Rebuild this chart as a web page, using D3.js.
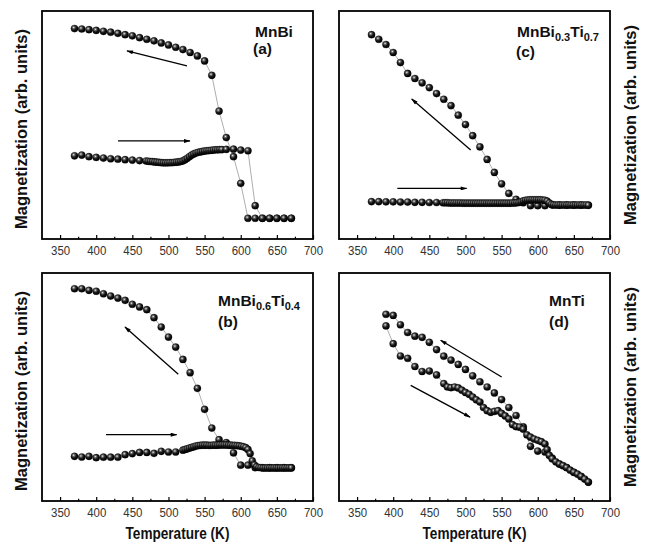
<!DOCTYPE html>
<html>
<head>
<meta charset="utf-8">
<script src="https://cdn.jsdelivr.net/npm/d3@7"></script>
<style>
  body { margin: 0; background: #fff; }
  svg { display: block; font-family: "Liberation Sans", Arial, sans-serif; }
</style>
</head>
<body>
<svg id="chart" width="649" height="551"></svg>
<script>
// temperature grids (K)
const tempsCool = [370, 380, 390, 400, 410, 420, 430, 440, 450, 460, 470, 480, 490, 500, 510, 520,
  530, 540, 550, 560, 570, 580, 590, 600, 610, 620, 630, 640, 650, 660, 670];

// (a) MnBi
const magA_cool = [92.3, 92.1, 91.8, 91.5, 91.1, 90.7, 90.2, 89.6, 89.1, 88.3, 87.6, 86.9, 86.0, 85.1, 84.1, 83.1,
  81.8, 80.3, 78.1, 71.8, 56.1, 44.5, 36.1, 24.4, 9.1, 9.1, 9.1, 9.1, 9.1, 9.1, 9.1];
const tempA_heat = [370, 380, 390, 400, 410, 420, 430, 440, 450, 460,
  469, 472, 475, 478, 481, 484, 487, 490, 493, 496, 499, 502, 505, 508, 511, 514, 517, 520,
  523, 526, 529, 532, 535, 538, 541, 544, 547, 550, 553, 556, 559, 562, 565, 568, 571, 574,
  580, 590, 600, 610, 620, 630, 640, 650, 660, 670];
const magA_heat = [36.5, 36.8, 36.1, 35.8, 35.5, 35.2, 35.0, 34.8, 34.6, 34.4,
  34.2, 34.1, 34.0, 33.9, 33.8, 33.7, 33.6, 33.5, 33.4, 33.4, 33.4, 33.5, 33.5, 33.6, 33.7, 33.8, 34.0, 34.3,
  34.8, 35.4, 36.1, 36.8, 37.3, 37.7, 38.0, 38.2, 38.4, 38.6, 38.7, 38.8, 38.9, 39.0, 39.1, 39.1, 39.2, 39.2,
  39.3, 39.4, 39.0, 38.7, 14.6, 9.1, 9.1, 9.1, 9.1, 9.1];

// (c) MnBi0.3Ti0.7
const magC_cool = [89.6, 87.6, 85.3, 81.8, 77.4, 72.6, 70.4, 68.5, 66.4, 63.8, 61.3, 58.5, 54.3, 50.2, 45.3, 40.4,
  34.9, 29.2, 24.2, 20.0, 17.4, 15.9, 14.6, 14.6, 14.6, 14.9, 14.9, 14.9, 14.9, 14.9, 14.9];
const tempC_heat = [370, 380, 390, 400, 410, 420, 430, 440, 450, 460,
  469, 472, 475, 478, 481, 484, 487, 490, 493, 496, 499, 502, 505, 508, 511, 514, 517, 520,
  523, 526, 529, 532, 535, 538, 541, 544, 547, 550, 553, 556, 559, 562, 565, 568, 571, 574,
  577, 580, 583, 586, 589, 592, 595, 598, 601, 604, 607, 610, 613, 616, 619, 622,
  625, 628, 631, 634, 637, 640, 643, 646, 649, 652, 655, 658, 661, 664, 667, 670];
const magC_heat = [16.4, 16.4, 16.3, 16.3, 16.2, 16.2, 16.1, 16.1, 16.0, 16.0,
  15.9, 15.9, 15.9, 15.8, 15.8, 15.8, 15.8, 15.8, 15.8, 15.7, 15.7, 15.7, 15.7, 15.7, 15.7, 15.7, 15.7, 15.7,
  15.7, 15.7, 15.7, 15.7, 15.7, 15.7, 15.7, 15.7, 15.7, 15.7, 15.7, 15.7, 15.7, 15.7, 15.8, 15.8, 15.9, 16.0,
  16.3, 16.7, 17.0, 17.1, 17.2, 17.2, 17.2, 17.2, 17.2, 17.2, 17.1, 17.0, 16.6, 15.8, 15.2, 15.0,
  14.9, 14.9, 14.9, 14.9, 14.9, 14.9, 14.9, 14.9, 14.9, 14.9, 14.9, 14.9, 14.9, 14.9, 14.9, 14.8];

// (b) MnBi0.6Ti0.4
const magB_cool = [93.1, 93.1, 92.4, 92.0, 90.9, 89.9, 89.0, 88.0, 86.3, 85.1, 83.9, 80.4, 76.3, 71.9, 67.5, 62.1,
  56.3, 49.4, 40.2, 32.0, 26.9, 25.6, 21.1, 15.7, 15.7, 14.6, 14.6, 14.6, 14.6, 14.6, 14.6];
const tempB_heat = [370, 380, 390, 400, 410, 420, 430, 440, 450, 460, 470, 480, 490, 500, 510, 520,
  523, 526, 529, 532, 535, 538, 541, 544, 547, 550, 553, 556, 559, 562, 565, 568, 571, 574, 577, 580,
  583, 586, 589, 592, 595, 598, 601, 604, 607, 610, 613, 616, 619, 622, 625, 628, 631, 634, 637, 640,
  643, 646, 649, 652, 655, 658, 661, 664, 667, 670];
const magB_heat = [19.6, 19.3, 19.6, 19.0, 19.2, 19.2, 19.2, 20.3, 20.8, 21.3, 21.3, 20.9, 21.8, 21.5, 21.5, 22.3,
  22.6, 22.9, 23.2, 23.5, 23.8, 24.1, 24.3, 24.4, 24.5, 24.5, 24.5, 24.4, 24.4, 24.5, 24.5, 24.5, 24.6, 24.6, 24.6, 24.6,
  24.5, 24.5, 24.4, 24.4, 24.3, 24.2, 24.0, 23.8, 23.4, 22.6, 20.8, 17.6, 15.8, 15.0, 14.7, 14.6, 14.5, 14.5, 14.5, 14.5,
  14.5, 14.5, 14.5, 14.5, 14.5, 14.5, 14.5, 14.5, 14.5, 14.5];

// (d) MnTi
const tempD_cool = [390, 400, 410, 420, 430, 440, 450, 460, 470, 480, 490, 500, 510, 520, 530,
  540, 550, 560, 570, 580, 590, 600, 610, 620, 630, 640, 650, 660, 670];
const magD_cool = [81.9, 81.4, 77.3, 73.9, 72.3, 71.8, 69.6, 66.4, 63.5, 61.8, 59.9, 57.7, 54.9, 52.3, 50.0,
  47.4, 44.5, 41.0, 37.5, 32.5, 24.0, 21.9, 21.5, 18.8, 16.2, 14.7, 12.6, 10.7, 8.3];
const tempD_heat = [390, 400, 410, 420, 430, 440, 450, 460, 470, 475, 480, 485, 490, 495, 500, 505,
  510, 515, 520, 525, 530, 535, 540, 545, 550, 555, 560, 565, 570, 575, 580, 585, 590, 595, 600, 605,
  610, 613, 616, 620, 625, 630, 635, 640, 645, 650, 655, 660, 665, 670];
const magD_heat = [76.8, 69.0, 63.6, 62.6, 59.0, 56.8, 57.0, 55.3, 51.5, 50.0, 49.7, 50.0, 49.6, 48.6, 47.6, 46.8,
  45.6, 44.4, 43.4, 41.0, 39.6, 38.9, 39.3, 39.6, 38.4, 37.3, 36.0, 33.5, 32.6, 32.4, 31.5, 29.0, 28.0, 27.2, 26.6, 26.0,
  25.0, 22.5, 20.0, 18.5, 17.2, 16.2, 15.5, 14.6, 13.5, 12.6, 11.8, 10.8, 9.6, 8.3];

const xTicks = [350, 400, 450, 500, 550, 600, 650, 700];
const xMinorTicks = [375, 425, 475, 525, 575, 625, 675];

const panels = [
  { left: 42, top: 11, cool: [tempsCool, magA_cool], heat: [tempA_heat, magA_heat],
    name: ["MnBi"], tag: "(a)", nameX: 255, nameY: 37, tagX: 253, tagY: 54, ylab: { x: 27, y: 129 },
    arrows: [[525.6, 75.9, 442.6, 82.5], [430.2, 43.0, 529.8, 43.0]] },
  { left: 339, top: 11, cool: [tempsCool, magC_cool], heat: [tempC_heat, magC_heat],
    name: ["MnBi", "0.3", "Ti", "0.7"], tag: "(c)", nameX: 517, nameY: 37, tagX: 516, tagY: 57, ylab: { x: 636, y: 125 },
    arrows: [[507.2, 39.0, 425.6, 61.4], [405.7, 22.2, 501.7, 22.2]] },
  { left: 42, top: 273, cool: [tempsCool, magB_cool], heat: [tempB_heat, magB_heat],
    name: ["MnBi", "0.6", "Ti", "0.4"], tag: "(b)", nameX: 218, nameY: 306, tagX: 218, tagY: 327, ylab: { x: 27, y: 391 },
    arrows: [[513.6, 55.6, 439.8, 76.3], [413.6, 29.1, 511.4, 29.1]], xlabel: true },
  { left: 339, top: 273, cool: [tempD_cool, magD_cool], heat: [tempD_heat, magD_heat],
    name: ["MnTi"], tag: "(d)", nameX: 549, nameY: 306, tagX: 549, tagY: 327, ylab: { x: 636, y: 387 },
    arrows: [[550.1, 54.4, 465.7, 70.5], [424.2, 50.7, 506.3, 36.8]], xlabel: true }
];

const W = 271, H = 228;
const svg = d3.select("#chart");

const defs = svg.append("defs");
const grad = defs.append("radialGradient").attr("id", "ball")
  .attr("cx", "38%").attr("cy", "35%").attr("r", "62%");
grad.append("stop").attr("offset", "0%").attr("stop-color", "#f4f4f4");
grad.append("stop").attr("offset", "22%").attr("stop-color", "#777");
grad.append("stop").attr("offset", "55%").attr("stop-color", "#1a1a1a");
grad.append("stop").attr("offset", "100%").attr("stop-color", "#000");

defs.append("marker").attr("id", "head")
  .attr("viewBox", "0 0 10 6").attr("refX", 9).attr("refY", 3)
  .attr("markerWidth", 8).attr("markerHeight", 4).attr("markerUnits", "userSpaceOnUse")
  .attr("orient", "auto")
  .append("path").attr("d", "M0,0 L10,3 L0,6 z").attr("fill", "#000");

const x = d3.scaleLinear().domain([325, 700]).range([0, W]);
const y = d3.scaleLinear().domain([0, 100]).range([H, 0]);

const line = d3.line().x(d => x(d[0])).y(d => y(d[1]));

panels.forEach(p => {
  const g = svg.append("g").attr("transform", `translate(${p.left},${p.top})`);

  // curves
  [p.cool, p.heat].forEach(s => {
    const pts = s[0].map((t, i) => [t, s[1][i]]);
    g.append("path").datum(pts)
      .attr("d", line)
      .attr("fill", "none")
      .attr("stroke", "#999")
      .attr("stroke-width", 0.8);
  });
  [p.cool, p.heat].forEach(s => {
    const pts = s[0].map((t, i) => [t, s[1][i]]);
    g.selectAll(null).data(pts).enter().append("circle")
      .attr("cx", d => x(d[0]))
      .attr("cy", d => y(d[1]))
      .attr("r", 3.6)
      .attr("fill", "url(#ball)")
      .attr("stroke", "#000")
      .attr("stroke-width", 0.3);
  });

  // arrows
  p.arrows.forEach(a => {
    g.append("line")
      .attr("x1", x(a[0])).attr("y1", y(a[1]))
      .attr("x2", x(a[2])).attr("y2", y(a[3]))
      .attr("stroke", "#000").attr("stroke-width", 1.3)
      .attr("marker-end", "url(#head)");
  });

  // axes
  const ax = g.append("g").attr("transform", `translate(0,${H})`)
    .call(d3.axisBottom(x).tickValues(xTicks).tickSize(-4).tickPadding(7));
  ax.select(".domain").remove();
  ax.selectAll("line").attr("stroke", "#000").attr("stroke-width", 1.2);
  ax.selectAll("text")
    .attr("font-size", 13)
    .attr("fill", "#333")
    .attr("font-family", "Liberation Sans, Arial, sans-serif")
    .attr("transform", "scale(0.88,1)");

  const axm = g.append("g").attr("transform", `translate(0,${H})`)
    .call(d3.axisBottom(x).tickValues(xMinorTicks).tickSize(-2.3).tickFormat(""));
  axm.select(".domain").remove();
  axm.selectAll("line").attr("stroke", "#000").attr("stroke-width", 1.2);

  // frame
  g.append("rect").attr("width", W).attr("height", H)
    .attr("fill", "none").attr("stroke", "#000").attr("stroke-width", 1.8);

  // sample name
  const nm = svg.append("text")
    .attr("x", p.nameX).attr("y", p.nameY)
    .attr("font-size", 15.5).attr("font-weight", "bold").attr("fill", "#111");
  p.name.forEach((part, i) => {
    const sub = i % 2 === 1;
    nm.append("tspan").text(part)
      .attr("font-size", sub ? 11 : 15.5)
      .attr("dy", sub ? 4 : (i > 0 ? -4 : 0));
  });
  svg.append("text")
    .attr("x", p.tagX).attr("y", p.tagY)
    .attr("font-size", 15.5).attr("font-weight", "bold").attr("fill", "#111")
    .text(p.tag);

  // y label
  svg.append("text")
    .attr("transform", `translate(${p.ylab.x},${p.ylab.y}) rotate(-90)`)
    .attr("text-anchor", "middle")
    .attr("font-size", 16.5).attr("font-weight", "bold").attr("fill", "#111")
    .text("Magnetization (arb. units)");

  if (p.xlabel) {
    svg.append("text")
      .attr("transform", `translate(${p.left + W / 2},539) scale(0.8,1)`)
      .attr("text-anchor", "middle")
      .attr("font-size", 17).attr("font-weight", "bold").attr("fill", "#111")
      .text("Temperature (K)");
  }
});
</script>
</body>
</html>
